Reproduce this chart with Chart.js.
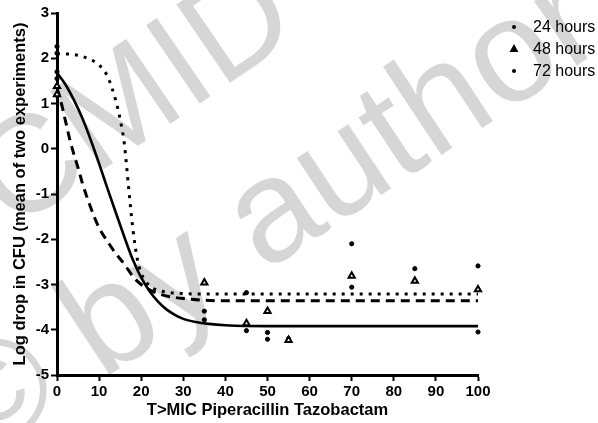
<!DOCTYPE html>
<html>
<head>
<meta charset="utf-8">
<script src="https://cdn.jsdelivr.net/npm/chart.js@4/dist/chart.umd.min.js"></script>
<style>
  html, body { margin: 0; padding: 0; background: #fff; }
  #wrap { width: 598px; height: 423px; position: relative; }
</style>
</head>
<body>
<div id="wrap"><canvas id="c" width="598" height="423"></canvas></div>
<script>
// Axis ticks
const xTicks = [0, 10, 20, 30, 40, 50, 60, 70, 80, 90, 100];
const yTicks = [-5, -4, -3, -2, -1, 0, 1, 2, 3];

// Series names
const seriesNames = ['24 hours', '48 hours', '72 hours'];

// Observed log drops (x = T>MIC %, y = log drop)
const obs24x = [0, 0, 35, 45, 50, 70, 85, 100];
const obs24y = [2.26, 2.11, -3.59, -3.18, -4.06, -2.10, -2.65, -2.59];
const obs48x = [0, 0, 35, 45, 50, 55, 70, 85, 100];
const obs48y = [1.38, 1.20, -2.96, -3.86, -3.59, -4.23, -2.81, -2.92, -3.11];
const obs72x = [0, 0, 35, 45, 50, 55, 70, 100];
const obs72y = [1.70, 1.55, -3.78, -4.02, -4.21, -4.20, -3.06, -4.05];

// Fitted curves
const fit24x = [0, 4, 8, 10, 12, 14, 15, 16, 17, 18, 19, 20, 22, 25, 30, 35, 50, 100];
const fit24y = [2.10, 2.08, 1.97, 1.85, 1.60, 1.05, 0.65, 0.10, -0.85, -1.75, -2.40, -2.75, -3.03, -3.15, -3.20, -3.21, -3.21, -3.21];
const fit48x = [0, 1, 2, 3, 4, 5, 6, 8, 10, 12, 14, 16, 18, 20, 22, 25, 30, 40, 100];
const fit48y = [1.35, 1.02, 0.62, 0.22, -0.12, -0.42, -0.75, -1.30, -1.75, -2.05, -2.32, -2.55, -2.82, -3.00, -3.12, -3.23, -3.31, -3.36, -3.36];
const fit72x = [0, 2, 4, 6, 8, 10, 12, 14, 16, 18, 20, 22, 24, 26, 28, 30, 33, 36, 40, 50, 100];
const fit72y = [1.68, 1.42, 1.08, 0.68, 0.20, -0.33, -0.88, -1.42, -1.95, -2.45, -2.85, -3.15, -3.38, -3.55, -3.67, -3.76, -3.83, -3.87, -3.90, -3.92, -3.92];

const pts = (xs, ys) => xs.map((x, i) => ({ x: x, y: ys[i] }));

const FONT = "'Liberation Sans', Arial, sans-serif";

// Faint diagonal watermark, painted first so axes and data sit on top
const watermark = {
  id: 'watermark',
  beforeDraw(chart) {
    const ctx = chart.ctx;
    ctx.save();
    ctx.fillStyle = 'rgb(214,214,214)';
    ctx.textBaseline = 'alphabetic';
    ctx.font = "138px " + FONT;
    ctx.save();
    ctx.translate(12, 232);
    ctx.rotate(-0.6);
    ctx.fillText('CMID', 0, 0);
    ctx.restore();
    ctx.font = "146px " + FONT;
    ctx.save();
    ctx.translate(-22, 462);
    ctx.rotate(-0.585);
    ctx.fillText('\u00A9 by author', 0, 0);
    ctx.restore();
    ctx.restore();
  }
};

// Legend at the upper right, outside the plot
const sideLegend = {
  id: 'sideLegend',
  afterDraw(chart) {
    const ctx = chart.ctx;
    ctx.save();
    ctx.font = "16px " + FONT;
    ctx.fillStyle = '#000';
    ctx.textBaseline = 'middle';
    const ys = [27, 49, 71];
    seriesNames.forEach((name, i) => {
      const ds = chart.data.datasets[i];
      const y = ys[i];
      const x = 514;
      if (ds.pointStyle === 'triangle') {
        ctx.beginPath();
        ctx.moveTo(x, y - 3.5);
        ctx.lineTo(x + 3.2, y + 2.2);
        ctx.lineTo(x - 3.2, y + 2.2);
        ctx.closePath();
        ctx.fillStyle = '#000';
        ctx.fill();
        ctx.lineWidth = 1.5;
        ctx.strokeStyle = '#000';
        ctx.stroke();
      } else {
        ctx.beginPath();
        ctx.arc(x, y, 2, 0, Math.PI * 2);
        ctx.fillStyle = '#000';
        ctx.fill();
      }
      ctx.fillStyle = '#000';
      ctx.fillText(name, 533, y + 1);
    });
    ctx.restore();
  }
};

const scatterBase = {
  type: 'scatter',
  showLine: false,
  borderColor: '#000',
  backgroundColor: '#000',
  clip: false
};
const lineBase = {
  type: 'line',
  showLine: true,
  pointRadius: 0,
  pointHoverRadius: 0,
  borderColor: '#000',
  borderWidth: 2.6,
  borderCapStyle: 'butt',
  fill: false,
  cubicInterpolationMode: 'monotone',
  clip: false
};

const axisFont = { family: FONT, size: 15, weight: 'bold' };
const titleFont = { family: FONT, size: 16.5, weight: 'bold' };

new Chart(document.getElementById('c'), {
  type: 'scatter',
  data: {
    datasets: [
      Object.assign({}, scatterBase, { label: seriesNames[0], data: pts(obs24x, obs24y), pointStyle: 'circle', pointRadius: 2.1 }),
      Object.assign({}, scatterBase, { label: seriesNames[1], data: pts(obs48x, obs48y), pointStyle: 'triangle', pointRadius: 3.6, borderWidth: 2, backgroundColor: '#fff' }),
      Object.assign({}, scatterBase, { label: seriesNames[2], data: pts(obs72x, obs72y), pointStyle: 'circle', pointRadius: 2.1 }),
      Object.assign({}, lineBase, { label: 'fit 24', data: pts(fit24x, fit24y), borderDash: [3, 6], borderWidth: 3 }),
      Object.assign({}, lineBase, { label: 'fit 48', data: pts(fit48x, fit48y), borderDash: [9, 6], borderWidth: 3 }),
      Object.assign({}, lineBase, { label: 'fit 72', data: pts(fit72x, fit72y) })
    ]
  },
  options: {
    responsive: false,
    animation: false,
    devicePixelRatio: 1,
    layout: { padding: { top: 13, right: 120, left: 0, bottom: 0 } },
    plugins: { legend: { display: false }, tooltip: { enabled: false } },
    scales: {
      x: {
        type: 'linear',
        min: 0, max: 100,
        afterBuildTicks: s => { s.ticks = xTicks.map(v => ({ value: v })); },
        afterFit: s => { s.height = 48; s.paddingLeft = 0; s.paddingRight = 0; s.paddingTop = 0; s.paddingBottom = 0; },
        border: { display: true, color: '#000', width: 3 },
        grid: { drawOnChartArea: false, drawTicks: true, tickLength: 6, tickWidth: 2, tickColor: '#000', color: '#000' },
        ticks: { color: '#000', font: axisFont, padding: 2, maxRotation: 0, autoSkip: false },
        title: { display: true, text: 'T>MIC Piperacillin Tazobactam', color: '#000', font: titleFont, padding: { top: 0, bottom: 3 } }
      },
      y: {
        type: 'linear',
        min: -5, max: 3,
        afterBuildTicks: s => { s.ticks = yTicks.map(v => ({ value: v })); },
        afterFit: s => { s.width = 57; s.paddingLeft = 0; s.paddingRight = 0; s.paddingTop = 0; s.paddingBottom = 0; },
        border: { display: true, color: '#000', width: 3 },
        grid: { drawOnChartArea: false, drawTicks: true, tickLength: 6, tickWidth: 2, tickColor: '#000', color: '#000' },
        ticks: { color: '#000', font: axisFont, padding: 2, autoSkip: false },
        title: { display: true, text: 'Log drop in CFU (mean of two experiments)', color: '#000', font: titleFont, padding: { top: 11, bottom: 0 } }
      }
    }
  },
  plugins: [watermark, sideLegend]
});
</script>
</body>
</html>
